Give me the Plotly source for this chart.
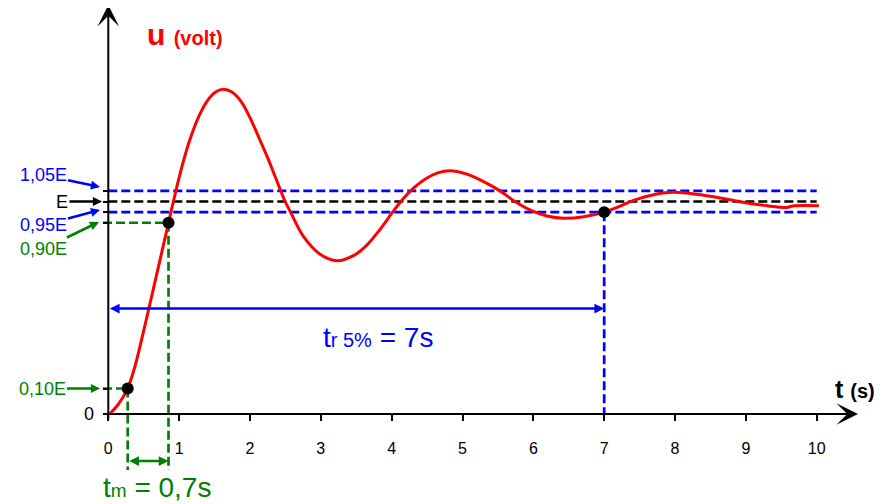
import plotly.graph_objects as go

# ---------------- data ----------------
T = [0.02, 0.14, 0.274, 0.36, 0.438, 0.565, 0.706, 0.85, 0.956, 1.05, 1.15,
     1.27, 1.40, 1.52, 1.624, 1.75, 1.88, 2.0, 2.12, 2.25, 2.37, 2.496, 2.576,
     2.754, 2.99, 3.226, 3.46, 3.65, 3.83, 4.0, 4.13, 4.26, 4.47, 4.65, 4.826,
     5.05, 5.25, 5.53, 5.74, 6.0, 6.19, 6.427, 6.71, 7.0, 7.2, 7.415, 7.7,
     7.98, 8.45, 8.92, 9.30, 9.58, 9.66, 10.03]
U = [0.0, 0.045, 0.121, 0.205, 0.305, 0.485, 0.69, 0.90, 1.053, 1.177, 1.289,
     1.395, 1.475, 1.516, 1.528, 1.514, 1.468, 1.395, 1.305, 1.205, 1.105, 1.0, 0.948,
     0.836, 0.752, 0.721, 0.745, 0.795, 0.866, 0.944, 1.0, 1.048, 1.105, 1.135, 1.145,
     1.13, 1.102, 1.05, 1.0, 0.953, 0.932, 0.921, 0.928, 0.95, 0.975, 1.005, 1.032,
     1.043, 1.027, 0.999, 0.980, 0.972, 0.979, 0.980]

LEVEL_105 = 1.05
LEVEL_E = 1.0
LEVEL_095 = 0.95
LEVEL_090 = 0.90
LEVEL_010 = 0.12
T10 = 0.274      # crossing of 0,10E
T90 = 0.85       # crossing of 0,90E
T5 = 7.0         # settling time at 5 %
X_TICKS = list(range(0, 11))
LEVEL_LABELS = ["1,05E", "E", "0,95E", "0,90E", "0,10E"]
TM_TEXT = "t<span style='font-size:19px'>m</span> = 0,7s"
TR_TEXT = "t<span style='font-size:20px'>r 5%</span> = 7s"

# ---------------- geometry (page pixel <-> data) ----------------
PAGE_W, PAGE_H = 886, 504
OFF = 8                      # default body margin of the page
W, H = PAGE_W - OFF, PAGE_H - OFF
X0PX, XS = 108.3, 70.84
Y0PX, YS = 414.0, 212.5
def px2x(p): return (p - X0PX) / XS
def px2y(p): return (Y0PX - p) / YS

XR = [px2x(OFF), px2x(PAGE_W)]
YR = [px2y(PAGE_H), px2y(OFF)]

BLUE = "#0000FF"
GREEN = "#008000"
RED = "#FF0000"
FONT = "Liberation Sans, Arial, sans-serif"
DASH = "9px,4px"

fig = go.Figure()

def dline(x, y, color, width=2.7):
    fig.add_trace(go.Scatter(x=x, y=y, mode="lines", hoverinfo="skip",
                             line=dict(color=color, width=width, dash=DASH)))

# horizontal tolerance band and E
dline([0, 10], [LEVEL_105, LEVEL_105], BLUE)
dline([0, 10], [LEVEL_095, LEVEL_095], BLUE)
dline([0, 10], [LEVEL_E, LEVEL_E], "black")
# green construction lines
dline([px2x(103), T90], [LEVEL_090, LEVEL_090], GREEN)
dline([px2x(103), T10], [LEVEL_010, LEVEL_010], GREEN)
dline([T10, T10], [LEVEL_010, px2y(470)], GREEN)
dline([T90, T90], [LEVEL_090, px2y(470)], GREEN)
# blue vertical at settling time
dline([T5, T5], [LEVEL_095, 0], BLUE)

# response curve
fig.add_trace(go.Scatter(x=T, y=U, mode="lines", hoverinfo="skip",
                         line=dict(color=RED, width=3, shape="spline", smoothing=0.9)))
# points
fig.add_trace(go.Scatter(x=[T10, T90, T5], y=[LEVEL_010, LEVEL_090, LEVEL_095],
                         mode="markers", hoverinfo="skip",
                         marker=dict(color="black", size=12)))

ann = []
# axes arrows
ann.append(dict(x=px2x(858), y=0, ax=px2x(103), ay=0, xref="x", yref="y",
                axref="x", ayref="y", text="", showarrow=True,
                arrowhead=3, arrowsize=1.8, arrowwidth=2, arrowcolor="black"))
ann.append(dict(x=0, y=px2y(5), ax=0, ay=px2y(421), xref="x", yref="y",
                axref="x", ayref="y", text="", showarrow=True,
                arrowhead=3, arrowsize=1.8, arrowwidth=2, arrowcolor="black"))
# double arrows
ann.append(dict(x=T5, y=px2y(308.5), ax=0, ay=px2y(308.5), xref="x", yref="y",
                axref="x", ayref="y", text="", showarrow=True, arrowside="end+start",
                arrowhead=2, startarrowhead=2, arrowsize=0.75, startarrowsize=0.75,
                arrowwidth=2.6, arrowcolor=BLUE))
ann.append(dict(x=T90, y=px2y(461), ax=T10, ay=px2y(461), xref="x", yref="y",
                axref="x", ayref="y", text="", showarrow=True, arrowside="end+start",
                arrowhead=2, startarrowhead=2, arrowsize=0.75, startarrowsize=0.75,
                arrowwidth=2.6, arrowcolor=GREEN))

# level labels with small arrows (tip px, text offset px)
label_specs = [
    (LEVEL_LABELS[0], BLUE, 100, px2y(187), -57, -12),
    (LEVEL_LABELS[1], "black", 102, LEVEL_E, -40, 0),
    (LEVEL_LABELS[2], BLUE, 100, px2y(210), -57, 15),
    (LEVEL_LABELS[3], GREEN, 99, px2y(222), -56, 27),
    (LEVEL_LABELS[4], GREEN, 100, LEVEL_010, -58, 0),
]
for txt, col, tipx, tipy, dx, dy in label_specs:
    ann.append(dict(x=px2x(tipx), y=tipy, xref="x", yref="y", ax=dx, ay=dy,
                    text=txt, showarrow=True, arrowhead=2, arrowsize=0.7,
                    arrowwidth=2.6, arrowcolor=col,
                    font=dict(family=FONT, size=18, color=col)))
ann.append(dict(x=px2x(89), y=0, xref="x", yref="y", text="0", showarrow=False,
                font=dict(family=FONT, size=18, color="black")))

# titles
ann.append(dict(x=px2x(145), y=px2y(34), xref="x", yref="y", xanchor="left",
                text="<b>u</b> <b><span style='font-size:20px'>(volt)</span></b>",
                showarrow=False, font=dict(family=FONT, size=30, color=RED)))
ann.append(dict(x=px2x(833), y=px2y(389), xref="x", yref="y", xanchor="left",
                text="<b>t</b> <b><span style='font-size:20px'>(s)</span></b>",
                showarrow=False, font=dict(family=FONT, size=25, color="black")))
ann.append(dict(x=px2x(378), y=px2y(337), xref="x", yref="y", text=TR_TEXT,
                showarrow=False, font=dict(family=FONT, size=28, color=BLUE)))
ann.append(dict(x=px2x(157), y=px2y(487), xref="x", yref="y", text=TM_TEXT,
                showarrow=False, font=dict(family=FONT, size=28, color=GREEN)))

xpos = (0 - YR[0]) / (YR[1] - YR[0])
ypos = (0 - XR[0]) / (XR[1] - XR[0])

fig.update_layout(
    width=W, height=H, margin=dict(l=0, r=0, t=0, b=0),
    paper_bgcolor="white", plot_bgcolor="white", showlegend=False,
    annotations=ann,
    xaxis=dict(range=XR, showgrid=False, zeroline=False, showline=False,
               anchor="free", position=xpos, tickmode="array", tickvals=X_TICKS,
               ticktext=[str(v) for v in X_TICKS], ticks="outside", ticklen=6,
               tickwidth=1.5, tickcolor="black", ticklabelstandoff=14,
               tickfont=dict(family=FONT, size=16, color="black"), fixedrange=True),
    yaxis=dict(range=YR, showgrid=False, zeroline=False, showline=False,
               anchor="free", position=ypos, tickmode="array",
               tickvals=[0, LEVEL_010, LEVEL_090, LEVEL_095, LEVEL_E, LEVEL_105],
               showticklabels=False, ticks="outside", ticklen=5, tickwidth=1.5,
               tickcolor="black", fixedrange=True),
)

fig.write_html("out.html", config={"displayModeBar": False})
